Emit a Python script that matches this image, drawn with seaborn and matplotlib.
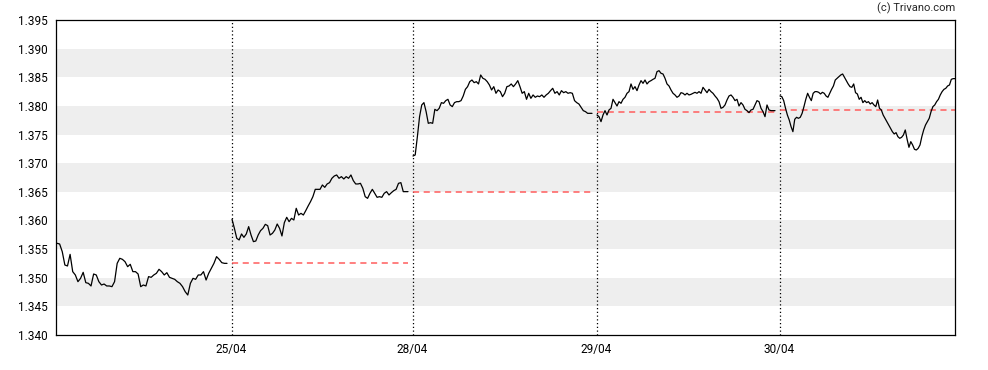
import numpy as np
import pandas as pd
import matplotlib
matplotlib.use("Agg")
import matplotlib.pyplot as plt
import seaborn as sns

# intraday prices, one list per trading day
day1 = [1.35601, 1.35589, 1.35455, 1.35222, 1.35205, 1.35408, 1.35106, 1.35048, 1.34931, 1.34989,
        1.35094, 1.34914, 1.34902, 1.34856, 1.35065, 1.35048, 1.34931, 1.34873, 1.34890, 1.34856,
        1.34856, 1.34844, 1.34931, 1.35251, 1.35339, 1.35321, 1.35280, 1.35193, 1.35234, 1.35106,
        1.35106, 1.35065, 1.34844, 1.34873, 1.34856, 1.35019, 1.35007, 1.35048, 1.35077, 1.35147,
        1.35106, 1.35048, 1.35088, 1.35007, 1.34989, 1.34972, 1.34931, 1.34902, 1.34844, 1.34757,
        1.34698, 1.34902, 1.34989, 1.34972, 1.35048, 1.35048, 1.35106, 1.34960, 1.35077, 1.35164,
        1.35251, 1.35368, 1.35321, 1.35263, 1.35251, 1.35251]
day2 = [1.36020, 1.35862, 1.35688, 1.35659, 1.35764, 1.35705, 1.35764, 1.35892, 1.35746, 1.35630,
        1.35641, 1.35746, 1.35822, 1.35862, 1.35932, 1.35909, 1.35746, 1.35775, 1.35833, 1.35938,
        1.35862, 1.35729, 1.35961, 1.36055, 1.35979, 1.36037, 1.36008, 1.36212, 1.36095, 1.36124,
        1.36095, 1.36171, 1.36252, 1.36328, 1.36415, 1.36543, 1.36543, 1.36543, 1.36619, 1.36578,
        1.36637, 1.36660, 1.36736, 1.36776, 1.36794, 1.36736, 1.36765, 1.36724, 1.36765, 1.36736,
        1.36794, 1.36695, 1.36637, 1.36637, 1.36648, 1.36561, 1.36415, 1.36386, 1.36474, 1.36543,
        1.36474, 1.36404, 1.36415, 1.36404, 1.36474, 1.36503, 1.36445, 1.36485, 1.36520, 1.36543,
        1.36648, 1.36660, 1.36503, 1.36503, 1.36503]
day3 = [1.37125, 1.37143, 1.37463, 1.37812, 1.38016, 1.38057, 1.37900, 1.37696, 1.37707, 1.37696,
        1.37940, 1.37917, 1.37958, 1.38057, 1.38045, 1.38092, 1.38115, 1.38016, 1.37987, 1.38057,
        1.38074, 1.38074, 1.38092, 1.38173, 1.38289, 1.38336, 1.38423, 1.38452, 1.38406, 1.38423,
        1.38383, 1.38540, 1.38482, 1.38464, 1.38423, 1.38365, 1.38278, 1.38336, 1.38220, 1.38278,
        1.38249, 1.38161, 1.38220, 1.38336, 1.38348, 1.38383, 1.38336, 1.38383, 1.38441, 1.38336,
        1.38220, 1.38249, 1.38115, 1.38220, 1.38132, 1.38191, 1.38150, 1.38173, 1.38161, 1.38191,
        1.38150, 1.38191, 1.38220, 1.38266, 1.38307, 1.38220, 1.38249, 1.38191, 1.38266, 1.38231,
        1.38249, 1.38220, 1.38231, 1.38220, 1.38092, 1.38057, 1.38033, 1.37975, 1.37917, 1.37900,
        1.37870, 1.37870, 1.37870]
day4 = [1.37841, 1.37812, 1.37725, 1.37841, 1.37917, 1.37841, 1.37929, 1.37958, 1.38115, 1.38057,
        1.37998, 1.38074, 1.38045, 1.38115, 1.38150, 1.38220, 1.38249, 1.38383, 1.38289, 1.38336,
        1.38266, 1.38365, 1.38441, 1.38394, 1.38452, 1.38383, 1.38423, 1.38441, 1.38464, 1.38482,
        1.38598, 1.38615, 1.38569, 1.38557, 1.38482, 1.38383, 1.38348, 1.38278, 1.38220, 1.38191,
        1.38150, 1.38173, 1.38231, 1.38220, 1.38191, 1.38220, 1.38191, 1.38202, 1.38220, 1.38237,
        1.38220, 1.38249, 1.38220, 1.38324, 1.38278, 1.38231, 1.38289, 1.38249, 1.38220, 1.38173,
        1.38132, 1.38074, 1.37958, 1.37975, 1.38016, 1.38103, 1.38173, 1.38191, 1.38150, 1.38092,
        1.38115, 1.37998, 1.38057, 1.38016, 1.37940, 1.37917, 1.37882, 1.37929, 1.37940, 1.38016,
        1.38092, 1.38074, 1.37958, 1.37900, 1.37812, 1.38016, 1.37929, 1.37917, 1.37917, 1.37917]
day5 = [1.38173, 1.38161, 1.38092, 1.37958, 1.37841, 1.37754, 1.37638, 1.37550, 1.37766, 1.37801,
        1.37783, 1.37801, 1.37870, 1.37987, 1.38115, 1.38220, 1.38150, 1.38092, 1.38220, 1.38249,
        1.38249, 1.38237, 1.38208, 1.38237, 1.38220, 1.38173, 1.38150, 1.38220, 1.38289, 1.38348,
        1.38452, 1.38482, 1.38511, 1.38540, 1.38557, 1.38499, 1.38441, 1.38383, 1.38336, 1.38324,
        1.38383, 1.38231, 1.38208, 1.38115, 1.38150, 1.38057, 1.38092, 1.38057, 1.38074, 1.38033,
        1.38057, 1.38016, 1.37987, 1.38103, 1.37958, 1.37929, 1.37841, 1.37783, 1.37725, 1.37667,
        1.37609, 1.37550, 1.37510, 1.37533, 1.37463, 1.37434, 1.37451, 1.37492, 1.37580, 1.37417,
        1.37277, 1.37376, 1.37318, 1.37242, 1.37230, 1.37259, 1.37318, 1.37463, 1.37580, 1.37667,
        1.37725, 1.37783, 1.37900, 1.37987, 1.38016, 1.38074, 1.38115, 1.38191, 1.38249, 1.38289,
        1.38307, 1.38348, 1.38365, 1.38464, 1.38476, 1.38476]

days = [day1, day2, day3, day4, day5]
day_labels = ["25/04", "28/04", "29/04", "30/04"]
prev_close = [1.3525, 1.3650, 1.3789, 1.3792]
y_ticks = [1.340, 1.345, 1.350, 1.355, 1.360, 1.365, 1.370, 1.375, 1.380, 1.385, 1.390, 1.395]

# session layout on the time axis (session open, session close)
SESSIONS = [(57, 227), (232, 408), (413, 592), (597, 775), (780, 955)]
X_RANGE = (56, 955)


def build_frame():
    rows = []
    for d, prices in enumerate(days):
        lo, hi = SESSIONS[d]
        xs = np.linspace(lo, hi, len(prices))
        for x, p in zip(xs, prices):
            rows.append({"x": x, "price": p, "day": d})
    return pd.DataFrame(rows)


def main():
    sns.set_style("white")
    plt.rcParams["font.family"] = ["Roboto", "DejaVu Sans"]

    df = build_frame()
    fig = plt.figure(figsize=(9.88, 3.70), dpi=100)
    ax = fig.add_axes([0.0567, 0.0946, 0.9099, 0.8514])

    # alternating grey bands
    for lo in np.arange(1.345, 1.395, 0.010):
        ax.axhspan(lo, lo + 0.005, color="#eeeeee", lw=0, zorder=0)

    sns.lineplot(data=df, x="x", y="price", units="day", estimator=None,
                 color="black", lw=0.9, ax=ax, zorder=3)

    # previous close reference lines
    for d, level in enumerate(prev_close, start=1):
        lo, hi = SESSIONS[d]
        ax.hlines(level, lo, hi, colors="#ff5c5c", linestyles=(0, (4, 3)),
                  lw=1.1, zorder=2)

    day_starts = [s[0] - 0.5 for s in SESSIONS[1:]]
    for x in day_starts:
        ax.axvline(x, color="black", ls=(0, (1, 2)), lw=0.9, zorder=1)

    ax.set_xlim(*X_RANGE)
    ax.set_ylim(1.340, 1.395)
    ax.set_yticks(y_ticks)
    ax.set_yticklabels([f"{v:.3f}" for v in y_ticks])
    ax.set_xticks(day_starts)
    ax.set_xticklabels(day_labels)
    ax.set_xlabel("")
    ax.set_ylabel("")
    ax.tick_params(axis="both", direction="out", length=4, width=0.8,
                   labelsize=8.5, colors="black", pad=2)
    for s in ax.spines.values():
        s.set_color("black")
        s.set_linewidth(0.9)

    fig.text(0.967, 0.993, "(c) Trivano.com", ha="right", va="top", fontsize=8)
    fig.savefig("out.png", dpi=100)


if __name__ == "__main__":
    main()
